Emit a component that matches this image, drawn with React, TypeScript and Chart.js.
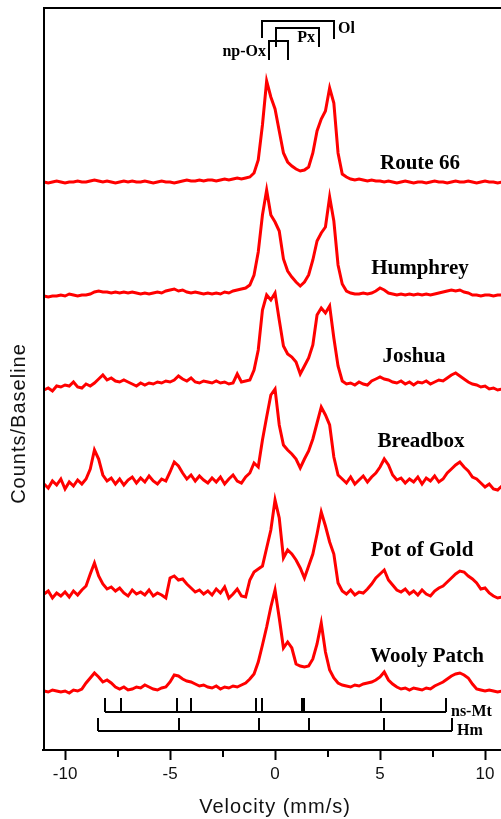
import React, { useEffect, useRef } from "react";
import { Chart, registerables } from "chart.js";

Chart.register(...registerables);

// Velocity channels (mm/s)
const VELOCITY = [
  -11.0, -10.8, -10.6, -10.4, -10.2, -10.0, -9.8, -9.6, -9.4, -9.2,
  -9.0, -8.8, -8.6, -8.4, -8.2, -8.0, -7.8, -7.6, -7.4, -7.2,
  -7.0, -6.8, -6.6, -6.4, -6.2, -6.0, -5.8, -5.6, -5.4, -5.2,
  -5.0, -4.8, -4.6, -4.4, -4.2, -4.0, -3.8, -3.6, -3.4, -3.2,
  -3.0, -2.8, -2.6, -2.4, -2.2, -2.0, -1.8, -1.6, -1.4, -1.2,
  -1.0, -0.8, -0.6, -0.4, -0.2, 0.0, 0.2, 0.4, 0.6, 0.8,
  1.0, 1.2, 1.4, 1.6, 1.8, 2.0, 2.2, 2.4, 2.6, 2.8,
  3.0, 3.2, 3.4, 3.6, 3.8, 4.0, 4.2, 4.4, 4.6, 4.8,
  5.0, 5.2, 5.4, 5.6, 5.8, 6.0, 6.2, 6.4, 6.6, 6.8,
  7.0, 7.2, 7.4, 7.6, 7.8, 8.0, 8.2, 8.4, 8.6, 8.8,
  9.0, 9.2, 9.4, 9.6, 9.8, 10.0, 10.2, 10.4, 10.6, 10.8,
];

// Counts above each spectrum's own baseline
const ROUTE_66 = [
  1, 0, 1, 2, 1, 0, 1, 1, 2, 1,
  1, 2, 3, 2, 1, 2, 1, 0, 1, 2,
  1, 2, 1, 1, 2, 1, 0, 1, 2, 1,
  1, 0, 1, 2, 3, 2, 2, 3, 2, 3,
  3, 2, 3, 4, 3, 4, 5, 4, 5, 6,
  10, 23, 58, 102, 86, 74, 52, 30, 21, 17,
  14, 12, 13, 16, 30, 52, 64, 72, 95, 80,
  30, 9, 6, 4, 3, 4, 3, 2, 3, 2,
  2, 1, 2, 1, 0, 1, 2, 1, 0, 1,
  1, 0, 1, 2, 1, 1, 0, 1, 2, 1,
  1, 2, 1, 0, 1, 2, 1, 1, 0, 1,
];
const HUMPHREY = [
  1, 0, 1, 1, 2, 1, 3, 2, 1, 2,
  2, 3, 5, 6, 5, 5, 4, 5, 4, 5,
  4, 5, 4, 3, 4, 3, 4, 5, 4, 6,
  7, 8, 6, 7, 5, 4, 5, 4, 3, 4,
  3, 4, 3, 5, 4, 6, 7, 8, 9, 12,
  22, 45, 82, 107, 82, 75, 66, 38, 26, 20,
  15, 11, 15, 22, 37, 56, 64, 70, 100, 76,
  32, 13, 6, 4, 3, 3, 4, 3, 4, 6,
  9, 7, 4, 3, 2, 3, 2, 3, 2, 3,
  2, 3, 2, 3, 4, 5, 6, 7, 6, 7,
  5, 4, 2, 2, 1, 2, 2, 1, 2, 2,
];
const JOSHUA = [
  0, 2, -1, 4, 3, 5, 4, 8, 3, 2,
  6, 4, 7, 11, 15, 10, 12, 9, 8, 10,
  8, 6, 4, 7, 5, 7, 6, 8, 7, 9,
  8, 10, 14, 11, 9, 12, 8, 7, 9, 8,
  7, 9, 7, 8, 6, 7, 16, 8, 9, 10,
  20, 40, 80, 95, 90, 97, 70, 44, 36, 33,
  28, 16, 24, 32, 45, 75, 82, 77, 84, 52,
  24, 9, 6, 7, 5, 8, 6, 5, 9, 11,
  13, 11, 10, 8, 7, 9, 6, 8, 5, 8,
  7, 9, 6, 8, 10, 9, 12, 15, 17, 14,
  11, 8, 6, 5, 3, 4, 1, 2, 0, 1,
];
const BREADBOX = [
  3, -1, 6, 2, 8, -2, 5, 1, 7, 3,
  8, 18, 37, 28, 12, 6, 9, 3, 8, 2,
  7, 10, 4, 9, 5, 11, 6, 3, 8, 6,
  15, 25, 21, 14, 8, 12, 6, 11, 7, 4,
  9, 5, 10, 3, 8, 12, 6, 4, 10, 14,
  24, 20, 47, 70, 92, 98, 62, 42, 37, 33,
  28, 19, 28, 36, 48, 64, 80, 72, 62, 30,
  12, 8, 4, 10, 3, 7, 11, 5, 10, 14,
  20, 28, 22, 12, 7, 9, 4, 8, 5, 10,
  3, 9, 6, 11, 5, 8, 14, 18, 22, 25,
  20, 16, 10, 8, 4, 0, 3, -2, -3, 1,
];
const POT_OF_GOLD = [
  4, 7, 0, 5, 2, 6, 1, 7, 3, 8,
  12, 24, 35, 22, 14, 9, 11, 7, 10, 5,
  2, 8, 4, 6, 3, 8, 2, 5, 3, 0,
  20, 22, 18, 19, 14, 10, 6, 8, 4, 7,
  3, 9, 5, 11, 0, 4, 9, 2, 1, 18,
  26, 29, 32, 50, 68, 98, 80, 40, 48, 44,
  38, 30, 20, 32, 44, 64, 86, 72, 56, 44,
  15, 7, 4, 8, 3, 6, 5, 9, 14, 20,
  24, 28, 18, 13, 8, 6, 9, 4, 7, 3,
  8, 4, 2, 7, 10, 12, 16, 20, 24, 27,
  26, 22, 19, 15, 9, 10, 5, 2, 0, 1,
];
const WOOLY_PATCH = [
  1, 0, 2, 1, 0, 1, -1, 2, 1, 3,
  9, 14, 19, 15, 10, 12, 9, 5, 3, 5,
  2, 3, 5, 4, 7, 5, 3, 2, 4, 5,
  10, 17, 16, 13, 11, 10, 8, 6, 7, 5,
  4, 6, 3, 5, 4, 6, 5, 7, 9, 13,
  18, 30, 47, 65, 85, 102, 74, 44, 50, 44,
  28, 26, 25, 26, 33, 48, 69, 40, 22, 14,
  9, 7, 6, 5, 7, 6, 8, 9, 10, 12,
  15, 20, 12, 8, 5, 3, 4, 2, 4, 3,
  2, 4, 3, 6, 8, 10, 13, 16, 18, 19,
  17, 14, 8, 3, 2, 1, 2, 1, 0, 1,
];

const SAMPLE_NAMES = ["Route 66", "Humphrey", "Joshua", "Breadbox", "Pot of Gold", "Wooly Patch"];
const SAMPLE_SERIES = [ROUTE_66, HUMPHREY, JOSHUA, BREADBOX, POT_OF_GOLD, WOOLY_PATCH];
const SAMPLE_OFFSETS = [567, 453, 360, 263, 152, 58];
const LABEL_VELOCITY = [6.9, 6.9, 6.62, 6.95, 7.0, 7.24];
const LABEL_RISE = [14, 23, 28, 40, 42, 30];

const MINOR_TICKS = [-7.5, -2.5, 2.5, 7.5];

// Reference line positions (mm/s)
const NS_MT_LINES = [-8.1, -7.33, -4.67, -4.0, -0.9, -0.62, 1.29, 1.38, 5.05, 8.14];
const HM_LINES = [-8.43, -4.57, -0.76, 1.62, 5.19, 8.43];
const OL_DOUBLET = [-0.62, 2.81];
const PX_DOUBLET = [0.05, 2.1];
const NPOX_DOUBLET = [-0.29, 0.62];

const Y_MAX = 743;

const overlayPlugin = {
  id: "overlay",
  afterDraw(chart: any) {
    const { ctx, chartArea: ca, scales } = chart;
    const X = (v: number) => scales.x.getPixelForValue(v);
    const Y = (v: number) => scales.y.getPixelForValue(v);
    ctx.save();
    ctx.strokeStyle = "#000";
    ctx.fillStyle = "#000";
    ctx.lineWidth = 2;
    // frame (left + top)
    ctx.beginPath();
    ctx.moveTo(ca.left + 1, ca.bottom);
    ctx.lineTo(ca.left + 1, ca.top + 1);
    ctx.lineTo(chart.width, ca.top + 1);
    ctx.stroke();
    // minor ticks
    ctx.beginPath();
    MINOR_TICKS.forEach((v) => {
      const x = Math.round(X(v));
      ctx.moveTo(x, ca.bottom);
      ctx.lineTo(x, ca.bottom + 7);
    });
    ctx.stroke();

    // brackets at top
    const bracket = (pair: number[], yLine: number, yEndL: number, yEndR: number) => {
      ctx.beginPath();
      ctx.moveTo(Math.round(X(pair[0])), Y(yEndL));
      ctx.lineTo(Math.round(X(pair[0])), Y(yLine));
      ctx.lineTo(Math.round(X(pair[1])), Y(yLine));
      ctx.lineTo(Math.round(X(pair[1])), Y(yEndR));
      ctx.stroke();
    };
    bracket(OL_DOUBLET, 729, 712, 711);
    bracket(PX_DOUBLET, 722, 703, 703);
    bracket(NPOX_DOUBLET, 709, 690, 690);

    const comb = (lines: number[], yLine: number, yTop: number) => {
      ctx.beginPath();
      ctx.moveTo(Math.round(X(lines[0])), Y(yLine));
      ctx.lineTo(Math.round(X(lines[lines.length - 1])), Y(yLine));
      lines.forEach((v) => {
        const x = Math.round(X(v));
        ctx.moveTo(x, Y(yLine));
        ctx.lineTo(x, Y(yTop));
      });
      ctx.stroke();
    };
    comb(NS_MT_LINES, 38, 52);
    comb(HM_LINES, 19, 32);

    ctx.font = 'bold 16px "Liberation Serif"';
    ctx.textBaseline = "middle";
    ctx.textAlign = "left";
    ctx.fillText("Ol", X(OL_DOUBLET[1]) + 4, Y(721));
    ctx.fillText("ns-Mt", X(NS_MT_LINES[NS_MT_LINES.length - 1]) + 5, Y(38));
    ctx.fillText("Hm", X(HM_LINES[HM_LINES.length - 1]) + 5, Y(19));
    ctx.textAlign = "center";
    ctx.fillText("Px", X(1.48), Y(712));
    ctx.textAlign = "right";
    ctx.fillText("np-Ox", X(NPOX_DOUBLET[0]) - 3, Y(698));

    // sample names
    ctx.font = 'bold 21px "Liberation Serif"';
    ctx.textAlign = "center";
    ctx.textBaseline = "alphabetic";
    SAMPLE_NAMES.forEach((name, i) => {
      ctx.fillText(name, X(LABEL_VELOCITY[i]), Y(SAMPLE_OFFSETS[i] + LABEL_RISE[i]));
    });

    // axis titles
    ctx.fillStyle = "#111";
    ctx.font = '20px "Liberation Sans"';
    (ctx as any).letterSpacing = "1px";
    ctx.textAlign = "center";
    ctx.textBaseline = "middle";
    ctx.fillText("Velocity (mm/s)", X(0), 807);
    ctx.translate(19, (ca.top + ca.bottom) / 2 + 45);
    ctx.rotate(-Math.PI / 2);
    ctx.fillText("Counts/Baseline", 0, 0);
    ctx.restore();
  },
};

export default function App() {
  const ref = useRef<HTMLCanvasElement | null>(null);
  useEffect(() => {
    if (!ref.current) return;
    const datasets = SAMPLE_SERIES.map((series, i) => ({
      label: SAMPLE_NAMES[i],
      data: series.map((c, j) => ({ x: VELOCITY[j], y: c + SAMPLE_OFFSETS[i] })),
      borderColor: "#ff0000",
      borderWidth: 3,
      pointRadius: 0,
      tension: 0,
      fill: false,
    }));
    const chart = new Chart(ref.current, {
      type: "line",
      data: { datasets },
      options: {
        animation: false,
        responsive: false,
        devicePixelRatio: 1,
        layout: { padding: { left: 43, top: 7, right: 0, bottom: 0 } },
        plugins: { legend: { display: false }, tooltip: { enabled: false } },
        scales: {
          x: {
            type: "linear",
            min: -11.05,
            max: 10.76,
            afterFit: (s: any) => {
              s.height = 69;
            },
            ticks: {
              stepSize: 5,
              includeBounds: false,
              autoSkip: false,
              maxRotation: 0,
              padding: 4,
              color: "#111",
              font: { family: '"Liberation Sans"', size: 17 },
            },
            grid: {
              display: true,
              drawOnChartArea: false,
              drawTicks: true,
              tickLength: 10,
              tickWidth: 2,
              tickColor: "#000",
            },
            border: { display: true, color: "#000", width: 2 },
          },
          y: { type: "linear", display: false, min: 0, max: Y_MAX },
        },
      },
      plugins: [overlayPlugin],
    });
    return () => chart.destroy();
  }, []);
  return (
    <div style={{ position: "fixed", left: 0, top: 0, width: 501, height: 819, background: "#fff" }}>
      <canvas ref={ref} width={501} height={819} style={{ display: "block" }} />
    </div>
  );
}
